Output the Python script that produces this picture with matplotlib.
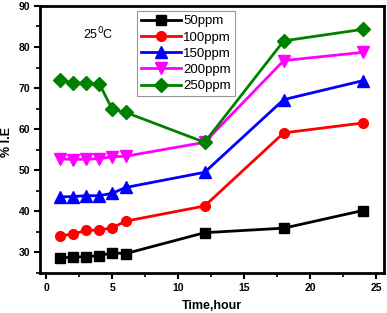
import matplotlib
matplotlib.use("Agg")
import matplotlib.pyplot as plt
from matplotlib.ticker import MultipleLocator

plt.rcParams["font.family"] = ["Liberation Sans", "DejaVu Sans"]

time_h = [1, 2, 3, 4, 5, 6, 12, 18, 24]
ie_50 = [28.7, 28.8, 29.0, 29.2, 29.9, 29.7, 34.8, 35.9, 40.2]
ie_100 = [34.1, 34.4, 35.4, 35.4, 36.0, 37.6, 41.3, 59.1, 61.5]
ie_150 = [43.5, 43.6, 43.8, 43.8, 44.4, 45.8, 49.5, 67.2, 71.8]
ie_200 = [52.8, 52.6, 52.7, 52.8, 53.3, 53.4, 56.8, 76.7, 78.7]
ie_250 = [72.0, 71.3, 71.2, 71.1, 64.8, 64.1, 56.8, 81.5, 84.3]
labels = ["50ppm", "100ppm", "150ppm", "200ppm", "250ppm"]

series = [ie_50, ie_100, ie_150, ie_200, ie_250]
colors = ["black", "red", "blue", "magenta", "green"]
markers = ["s", "o", "^", "v", "D"]
msizes = [6.5, 7, 8, 8, 7]

fig = plt.figure(figsize=(3.87, 3.13), dpi=100)
ax = fig.add_axes([0.103, 0.128, 0.889, 0.853])

for ys, c, m, ms, lab in zip(series, colors, markers, msizes, labels):
    ax.plot(time_h, ys, color=c, marker=m, markersize=ms, linewidth=2.0,
            markeredgecolor=c, label=lab)

ax.set_xlim(-0.5, 25.6)
ax.set_ylim(25, 90)
ax.xaxis.set_major_locator(MultipleLocator(5))
ax.xaxis.set_minor_locator(MultipleLocator(2.5))
ax.yaxis.set_major_locator(MultipleLocator(10))
ax.yaxis.set_minor_locator(MultipleLocator(5))
ax.tick_params(which="major", direction="out", length=4, width=1.5, labelsize=7.5, pad=3)
ax.tick_params(which="minor", direction="out", length=3, width=1.2)
for lbl in ax.get_xticklabels() + ax.get_yticklabels():
    lbl.set_fontweight("bold")
for sp in ax.spines.values():
    sp.set_linewidth(2)

ax.set_xlabel("Time,hour", fontsize=9, fontweight="bold")
ax.set_ylabel("% I.E", fontsize=9, fontweight="bold")
ax.xaxis.set_label_coords(0.5, -0.10)
ax.yaxis.set_label_coords(-0.078, 0.49)

ax.text(0.17, 0.895, "25$^{0}$C", transform=ax.transAxes, fontsize=9,
        ha="center", va="center")

leg = ax.legend(loc="upper left", bbox_to_anchor=(0.275, 0.99), fontsize=9.5,
                frameon=True, fancybox=False, edgecolor="gray",
                handlelength=3.0, handletextpad=0.2, labelspacing=0.3,
                borderpad=0.3, borderaxespad=0.2)
leg.get_frame().set_linewidth(0.8)

fig.savefig("out.png", dpi=100)
